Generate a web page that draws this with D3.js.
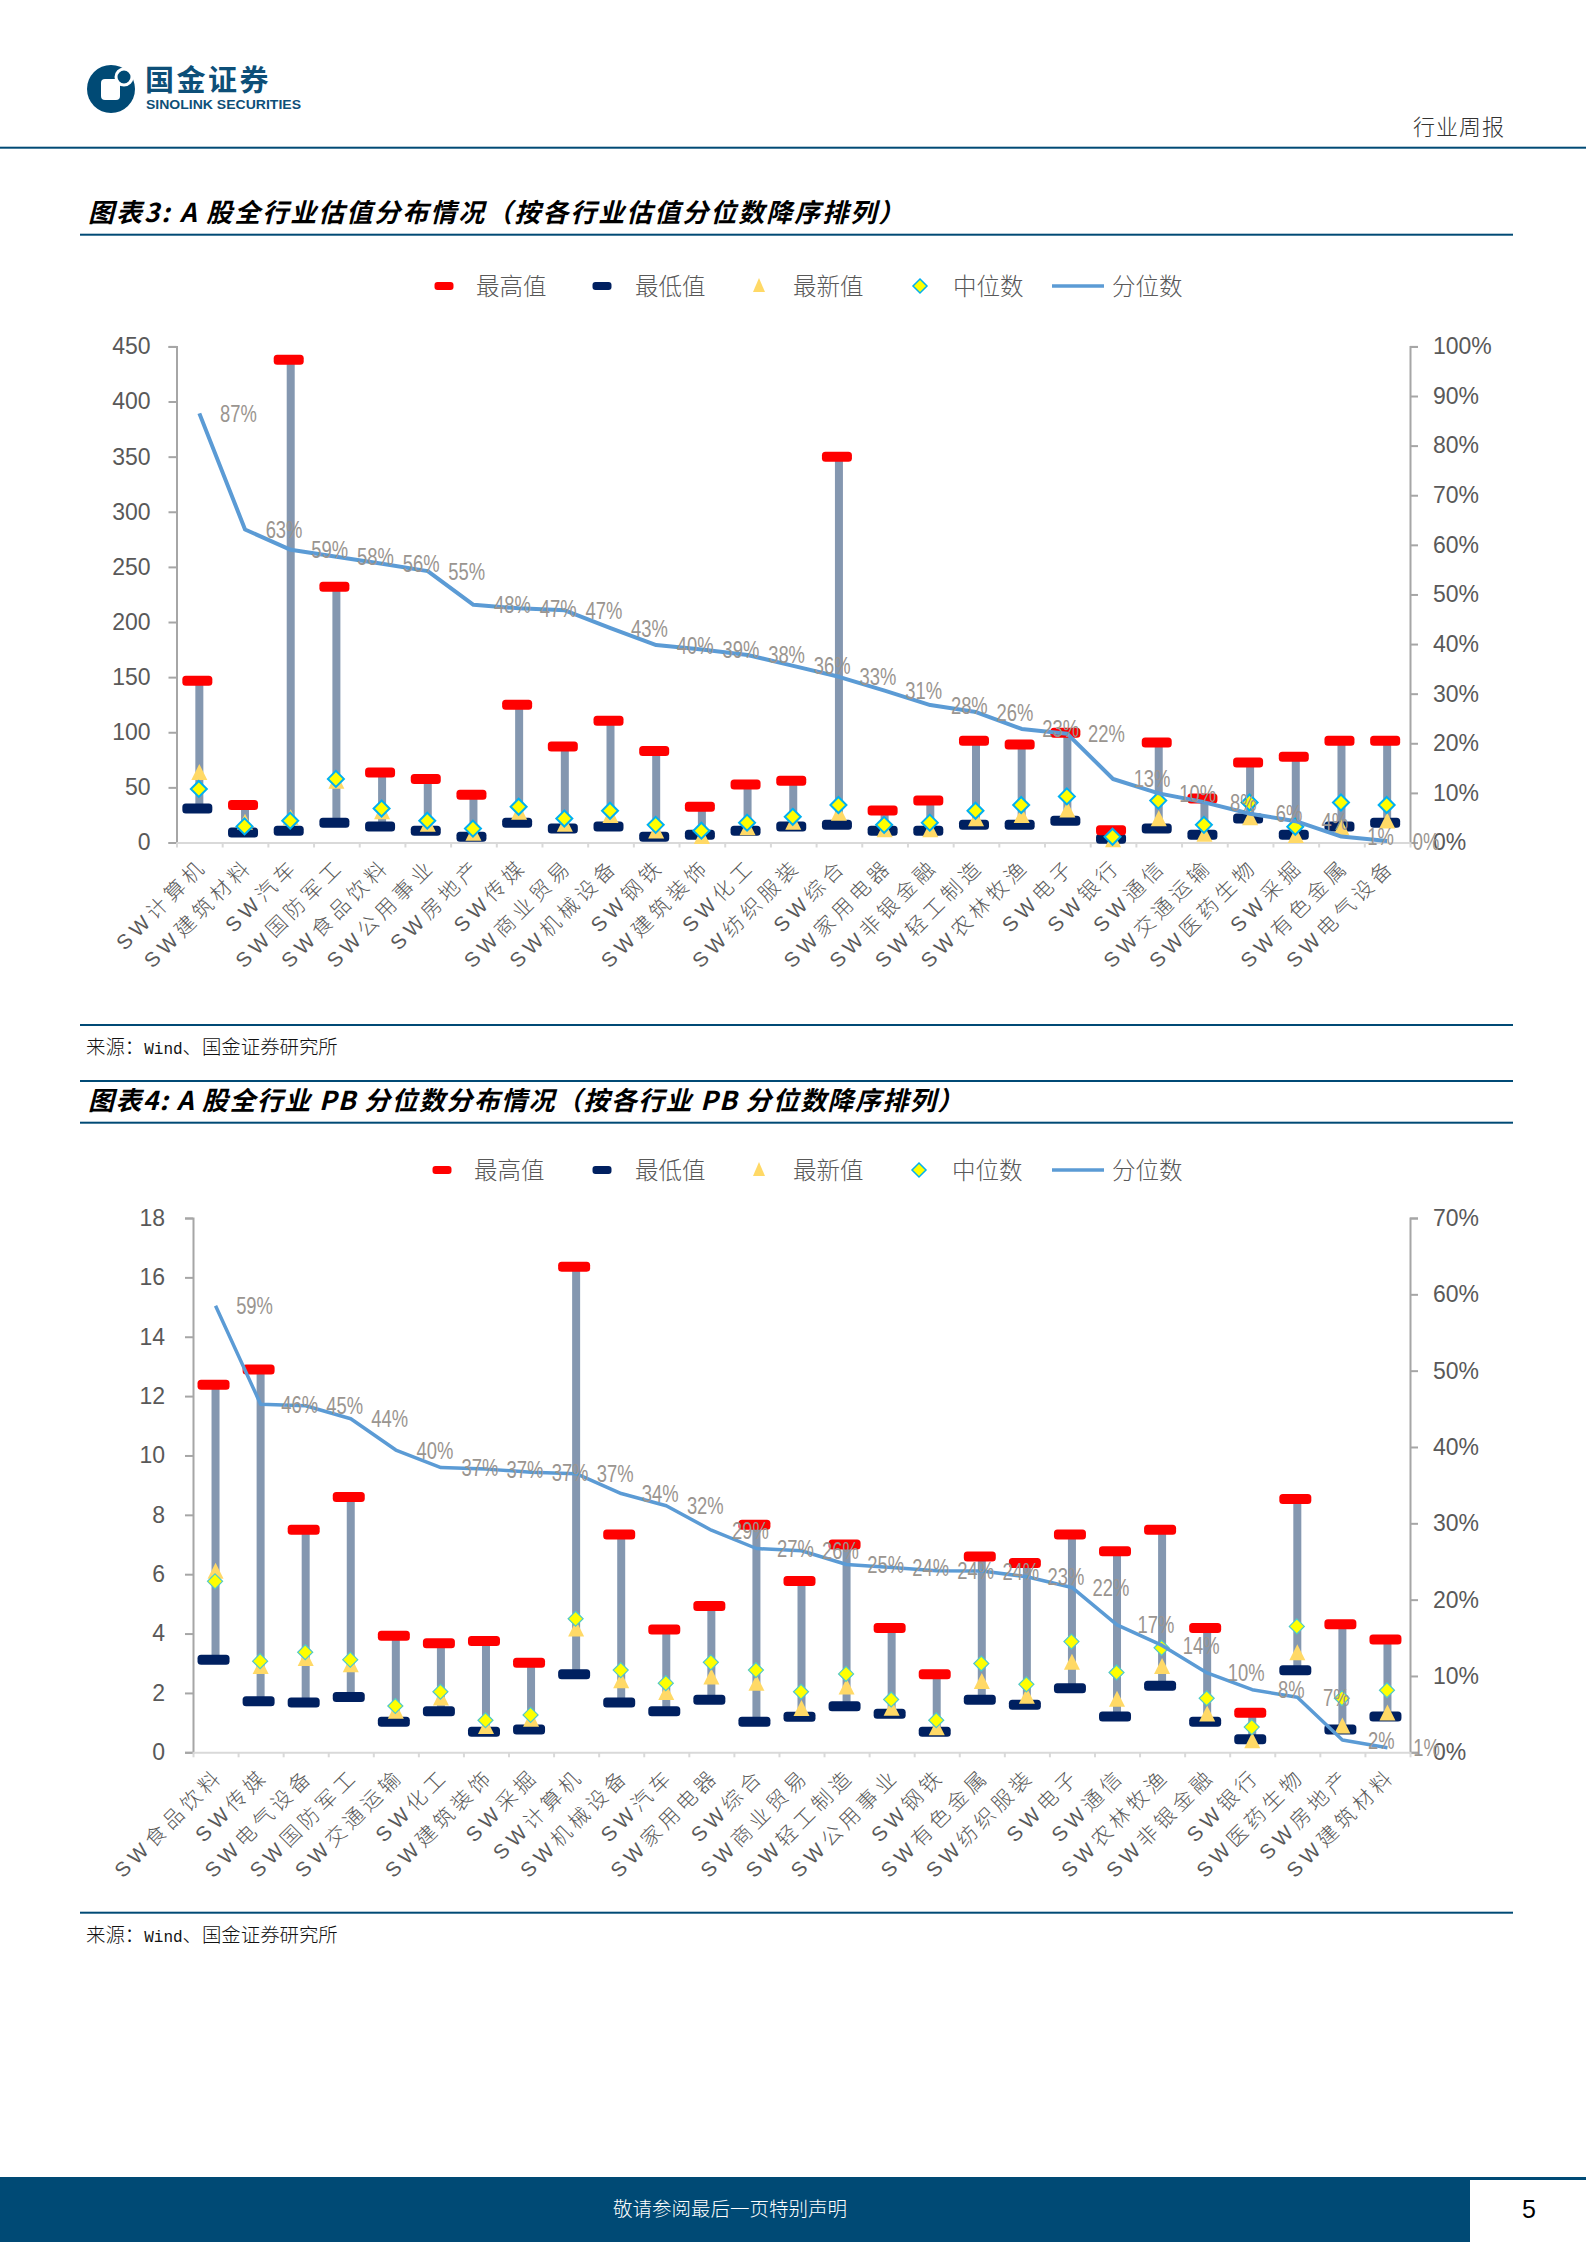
<!DOCTYPE html>
<html><head><meta charset="utf-8">
<script src="https://cdn.jsdelivr.net/npm/d3@7"></script>
<style>
html,body{margin:0;padding:0;background:#fff}
svg{display:block}
text{font-family:"Liberation Sans",Arial,sans-serif}
.cjk{font-family:"Noto Sans CJK SC",sans-serif}
</style></head><body>
<svg id="page" width="1586" height="2244"></svg>
<script>
const legendNames = ["最高值","最低值","最新值","中位数","分位数"];
const title1 = "图表3: A 股全行业估值分布情况\uFF08按各行业估值分位数降序排列\uFF09";
const title2 = "图表4: A 股全行业 PB 分位数分布情况\uFF08按各行业 PB 分位数降序排列\uFF09";

const cats1 = ["计算机","建筑材料","汽车","国防军工","食品饮料","公用事业","房地产","传媒","商业贸易","机械设备","钢铁","建筑装饰","化工","纺织服装","综合","家用电器","非银金融","轻工制造","农林牧渔","电子","银行","通信","交通运输","医药生物","采掘","有色金属","电气设备"];
const high1 = [146.7,34,438,232,63.5,57.7,43.4,125,87,110.5,83,32.4,52.5,56,350,29,38,92.3,89,99.5,11,90.7,40,72.6,77.7,92.3,92.3];
const low1 = [30.8,9,10.7,18,14.6,10.7,5.2,18,12.6,14.6,5.2,7,10.7,14.6,16,10.7,10.7,16,16,19.8,3.5,12.6,7,21.7,7,14.6,18];
const latest1 = [63,18,22,55,27.5,16,8,27,16,24,10,5,13,18,26,11,11,21,24,29,2,21,7,22,6,13,19];
const median1 = [48.6,14.6,19.8,57.7,30.8,19.8,12.6,32.4,21.7,28.8,16,10.7,18,23.3,34,16,18,28.8,34,41.8,5.2,38,16,36.3,14.3,36.3,34];
const pct1 = [86.5,63.1,59,57.6,56.2,54.7,47.9,47.2,46.8,43.2,39.8,38.9,37.8,35.6,33.4,30.6,27.7,26.3,22.9,21.9,12.8,9.9,8.1,5.8,4.3,1.2,0.3];
const yTicks1 = [0,50,100,150,200,250,300,350,400,450];
const pTicks1 = [0,10,20,30,40,50,60,70,80,90,100];

const cats2 = ["食品饮料","传媒","电气设备","国防军工","交通运输","化工","建筑装饰","采掘","计算机","机械设备","汽车","家用电器","综合","商业贸易","轻工制造","公用事业","钢铁","有色金属","纺织服装","电子","通信","农林牧渔","非银金融","银行","医药生物","房地产","建筑材料"];
const high2 = [12.38,12.9,7.5,8.6,3.93,3.67,3.75,3.02,16.36,7.34,4.14,4.93,7.67,5.77,7.0,4.19,2.63,6.6,6.38,7.34,6.77,7.5,4.19,1.33,8.53,4.31,3.8];
const low2 = [3.12,1.72,1.68,1.86,1.03,1.38,0.69,0.77,2.63,1.68,1.38,1.77,1.03,1.2,1.55,1.3,0.69,1.77,1.6,2.16,1.21,2.24,1.03,0.44,2.76,0.77,1.21];
const latest2 = [6.08,2.87,3.14,2.93,1.37,1.81,0.85,1.1,4.14,2.39,2.0,2.52,2.31,1.46,2.18,1.47,0.81,2.37,1.87,3.02,1.77,2.87,1.27,0.37,3.34,0.87,1.31];
const median2 = [5.76,3.07,3.37,3.12,1.56,2.04,1.08,1.26,4.5,2.77,2.33,3.03,2.77,2.04,2.64,1.78,1.08,2.99,2.29,3.73,2.69,3.52,1.82,0.85,4.24,1.82,2.09];
const pct2 = [58.5,45.6,45.4,43.7,39.6,37.3,37.1,36.7,36.5,33.9,32.3,29.1,26.7,26.4,24.6,24.2,23.8,23.75,23,21.6,16.7,14,10.4,8.2,7.2,1.6,0.6];
const yTicks2 = [0,2,4,6,8,10,12,14,16,18];
const pTicks2 = [0,10,20,30,40,50,60,70];

const NAVY="#004a75", RED="#ff0000", DARK="#002060", GOLD="#ffd966", STEM="#8497b0", LINE="#5b9bd5";
const svg = d3.select("#page");

function rule(y,x1,x2,w){svg.append("rect").attr("x",x1).attr("y",y-w/2).attr("width",x2-x1).attr("height",w).attr("fill",NAVY);}
rule(147.7,0,1586,2);
rule(234.7,80,1513,2); rule(1025,80,1513,2); rule(1081,80,1513,2); rule(1122.7,80,1513,2); rule(1912.7,80,1513,2);
const logo = svg.append("g");
logo.append("circle").attr("cx",111).attr("cy",89).attr("r",24).attr("fill",NAVY);
logo.append("rect").attr("x",101).attr("y",79).attr("width",19).attr("height",21).attr("rx",4).attr("fill","#fff");
logo.append("circle").attr("cx",124).attr("cy",77).attr("r",8).attr("fill",NAVY).attr("stroke","#fff").attr("stroke-width",3);
svg.append("text").attr("class","cjk").attr("x",145).attr("y",91).attr("font-size",29).attr("letter-spacing",2.5).attr("font-weight",700).attr("fill","#0d4f78").text("国金证券");
svg.append("text").attr("x",146).attr("y",109).attr("font-size",13).attr("font-weight",700).attr("fill","#0d4f78").attr("textLength",155).attr("lengthAdjust","spacingAndGlyphs").text("SINOLINK SECURITIES");
svg.append("text").attr("class","cjk").attr("x",1413).attr("y",135).attr("font-size",22).attr("font-weight",300).attr("fill","#333").attr("letter-spacing",1).text("行业周报");

function titleText(t,y,ls){svg.append("text").attr("class","cjk").attr("x",88).attr("y",y).attr("font-size",26).attr("letter-spacing",ls).attr("font-weight",700).attr("font-style","italic").attr("fill","#000").text(t);}
titleText(title1,222,2.0); titleText(title2,1110,1.4);
function source(y){
  const t=svg.append("text").attr("class","cjk").attr("x",86).attr("y",y).attr("font-size",19.4).attr("font-weight",300).attr("fill","#111");
  t.append("tspan").text("来源\uFF1A");
  t.append("tspan").attr("style","font-family:'Liberation Mono',monospace").attr("font-size",16).text("Wind");
  t.append("tspan").text("、国金证券研究所");
}
source(1054); source(1942);
svg.append("rect").attr("x",0).attr("y",2177).attr("width",1470).attr("height",65).attr("fill",NAVY);
svg.append("rect").attr("x",1470).attr("y",2177).attr("width",116).attr("height",3).attr("fill",NAVY);
svg.append("text").attr("class","cjk").attr("x",730).attr("y",2216).attr("text-anchor","middle").attr("font-size",19.5).attr("font-weight",300).attr("fill","#fff").text("敬请参阅最后一页特别声明");
svg.append("text").attr("x",1529).attr("y",2218).attr("text-anchor","middle").attr("font-size",25).attr("fill","#000").text("5");

function legend(y,x){
  const g=svg.append("g");
  const dash=(cx,c)=>g.append("rect").attr("x",cx-9.5).attr("y",y-4).attr("width",19).attr("height",8).attr("rx",3).attr("fill",c);
  const lab=(tx,s)=>g.append("text").attr("class","cjk").attr("x",tx).attr("y",y+8.5).attr("font-size",23.5).attr("font-weight",300).attr("fill","#595959").text(s);
  dash(x[0],RED); lab(x[0]+32,legendNames[0]);
  dash(x[1],DARK); lab(x[1]+33,legendNames[1]);
  g.append("path").attr("transform",`translate(${x[2]},${y})`).attr("d","M0,-8L6,6L-6,6Z").attr("fill",GOLD); lab(x[2]+34,legendNames[2]);
  g.append("path").attr("transform",`translate(${x[3]},${y})`).attr("d","M0,-7L7,0L0,7L-7,0Z").attr("fill","#ffff00").attr("stroke","#00b0f0").attr("stroke-width",1.5); lab(x[3]+33,legendNames[3]);
  g.append("line").attr("x1",x[4]).attr("x2",x[4]+52).attr("y1",y).attr("y2",y).attr("stroke",LINE).attr("stroke-width",3.5); lab(x[4]+60,legendNames[4]);
}
legend(286,[444,602,759,920,1052]);
legend(1170,[442,602,759,919,1052]);

function chart(o){
  const x=d3.scaleBand().domain(o.cats).range([o.left,o.right]);
  const edge=d3.scaleLinear().domain([0,o.cats.length]).range([o.left,o.right]);
  const y=d3.scaleLinear().domain([0,o.yMax]).range([o.bottom,o.top]);
  const p=d3.scaleLinear().domain([0,o.pMax]).range([o.bottom,o.top]);
  const g=svg.append("g");
  const cx=i=>x(o.cats[i])+x.bandwidth()/2;

  const styleAxis=(a,c)=>{a.selectAll("path").attr("stroke",c).attr("stroke-width",2);a.selectAll("line").attr("stroke",c).attr("stroke-width",2);a.selectAll("text").attr("font-size",23).attr("fill","#595959").attr("font-family","Liberation Sans");};
  const la=g.append("g").attr("transform",`translate(${o.left},0)`).call(d3.axisLeft(y).tickValues(o.yTicks).tickSize(8).tickSizeOuter(8).tickPadding(o.lPad));
  styleAxis(la,"#a6a6a6");
  const ra=g.append("g").attr("transform",`translate(${o.right},0)`).call(d3.axisRight(p).tickValues(o.pTicks).tickSize(8).tickSizeOuter(8).tickPadding(15).tickFormat(d=>d+"%"));
  styleAxis(ra,"#a6a6a6");
  const ea=g.append("g").attr("transform",`translate(0,${o.bottom})`).call(d3.axisBottom(edge).ticks(o.cats.length).tickSize(5).tickSizeOuter(0).tickFormat(""));
  styleAxis(ea,"#d9d9d9");

  const xa=g.append("g").attr("transform",`translate(0,${o.bottom})`).call(d3.axisBottom(x).tickSize(0).tickFormat(""));
  xa.select("path").remove();
  xa.selectAll(".tick").each(function(d){
    const t=d3.select(this).append("text").attr("text-anchor","end").attr("class","cjk")
      .attr("transform","translate(9,25) rotate(-45)").attr("font-size",20.5).attr("font-weight",300).attr("fill","#595959");
    t.append("tspan").attr("letter-spacing",5).attr("style","font-family:'Liberation Sans'").text("SW");
    t.append("tspan").attr("letter-spacing",4.6).text(d);
  });

  const idx=d3.range(o.cats.length);
  g.append("g").selectAll("line").data(idx).join("line")
    .attr("x1",cx).attr("x2",cx).attr("y1",i=>y(o.high[i])).attr("y2",i=>y(o.low[i]))
    .attr("stroke",STEM).attr("stroke-width",8);
  const dash=(vals,c)=>g.append("g").selectAll("rect").data(idx).join("rect")
    .attr("x",i=>cx(i)-o.dashW/2-2).attr("y",i=>y(vals[i])-5).attr("width",o.dashW).attr("height",10).attr("rx",3.5).attr("fill",c);
  dash(o.low,DARK); dash(o.high,RED);
  g.append("g").selectAll("path").data(idx).join("path")
    .attr("transform",i=>`translate(${cx(i)},${y(o.latest[i])})`).attr("d","M0,-9L8,7L-8,7Z").attr("fill",GOLD);
  const d=o.dia;
  g.append("g").selectAll("path").data(idx).join("path")
    .attr("transform",i=>`translate(${cx(i)-0.5},${y(o.median[i])})`).attr("d",`M0,${-d}L${d},0L0,${d}L${-d},0Z`)
    .attr("fill","#ffff00").attr("stroke",o.diaStroke).attr("stroke-width",o.diaW);
  g.append("path").datum(idx).attr("fill","none").attr("stroke",LINE).attr("stroke-width",o.lineW).attr("stroke-linejoin","round")
    .attr("d",d3.line().x(cx).y(i=>p(o.pct[i])));
  g.append("g").selectAll("text").data(idx).join("text")
    .attr("transform",i=>`translate(${cx(i)+39},${p(o.pct[i])+8.5}) scale(0.8,1)`)
    .attr("text-anchor","middle").attr("font-size",23).attr("fill","#9a9590")
    .text(i=>Math.round(o.pct[i])+"%");
}
chart({cats:cats1,high:high1,low:low1,latest:latest1,median:median1,pct:pct1,yTicks:yTicks1,pTicks:pTicks1,
  left:176.5,right:1410,top:346.4,bottom:842.5,yMax:450,pMax:100,dashW:30,dia:8,diaStroke:"#00b0f0",diaW:2,lineW:4,lPad:18});
chart({cats:cats2,high:high2,low:low2,latest:latest2,median:median2,pct:pct2,yTicks:yTicks2,pTicks:pTicks2,
  left:193,right:1410,top:1218,bottom:1752.3,yMax:18,pMax:70,dashW:32,dia:7.5,diaStroke:"#4fc9c9",diaW:1.2,lineW:3.5,lPad:20});
</script>
</body></html>
